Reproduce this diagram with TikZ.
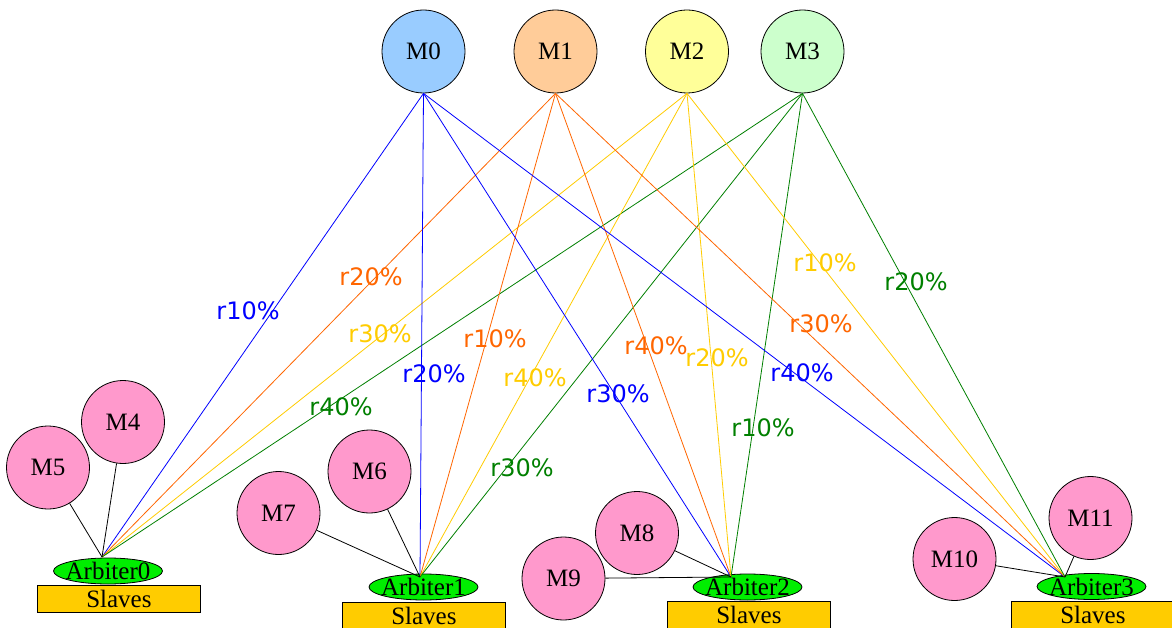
\documentclass[tikz,border=0pt]{standalone}
\usepackage{fontspec}
\setmainfont{Liberation Serif}
\newfontfamily\pctfont{DejaVu Sans}
\usetikzlibrary{shapes.geometric}
\definecolor{mzero}{HTML}{99CCFF}
\definecolor{mone}{HTML}{FFCC99}
\definecolor{mtwo}{HTML}{FFFF99}
\definecolor{mthree}{HTML}{CCFFCC}
\definecolor{pinkc}{HTML}{FF99CC}
\definecolor{arbc}{HTML}{00EE00}
\definecolor{slvc}{HTML}{FFCC00}
\definecolor{lblue}{HTML}{0000FF}
\definecolor{lorange}{HTML}{FF6600}
\definecolor{lyellow}{HTML}{FFCC00}
\definecolor{lgreen}{HTML}{008000}
\newcommand{\arbtext}[1]{\makebox[0pt]{#1}}
\begin{document}
\begin{tikzpicture}[x=1pt,y=-1pt,
  master/.style={circle, draw=black, line width=0.8pt, minimum size=83pt, inner sep=0pt, font=\fontsize{25}{25}\selectfont},
  pinkm/.style={master, fill=pinkc},
  arb/.style={ellipse, draw=black, line width=0.8pt, fill=arbc, minimum width=109pt, minimum height=26pt, inner sep=0pt, text height=17pt, text depth=0pt, font=\fontsize{25}{25}\selectfont},
  slv/.style={rectangle, draw=black, line width=0.8pt, fill=slvc, minimum width=163pt, minimum height=27pt, inner sep=0pt, anchor=north west, font=\fontsize{25}{25}\selectfont},
  pct/.style={font=\pctfont\fontsize{24}{24}\selectfont, inner sep=0pt},
  wire/.style={line width=0.8pt}]
\clip (0,0) rectangle (1172,628);
\fill[white] (0,0) rectangle (1172,628);

% masters
\node[master, fill=mzero] (M0) at (423.5,51.5) {M0};
\node[master, fill=mone] (M1) at (555.5,51.5) {M1};
\node[master, fill=mtwo] (M2) at (687,51.5) {M2};
\node[master, fill=mthree] (M3) at (802.5,51.5) {M3};

% hubs
\coordinate (h0) at (102,557);
\coordinate (h1) at (420,577);
\coordinate (h2) at (731,577);
\coordinate (h3) at (1065,577);

% slaves
\node[slv] (S0) at (37,585) {Slaves};
\node[slv] (S1) at (342,602) {Slaves};
\node[slv] (S2) at (667,601) {Slaves};
\node[slv] (S3) at (1011,601) {Slaves};

% arbiters
\node[arb] (A0) at (108,571) {\arbtext{Arbiter0}};
\node[arb] (A1) at (423.5,587) {\arbtext{Arbiter1}};
\node[arb] (A2) at (747.5,587) {\arbtext{Arbiter2}};
\node[arb] (A3) at (1091.5,586.5) {\arbtext{Arbiter3}};

% master to hub lines
\foreach \h in {h0,h1,h2,h3}{
  \draw[wire, lblue] (M0.south) -- (\h);
  \draw[wire, lorange] (M1.south) -- (\h);
  \draw[wire, lyellow] (M2.south) -- (\h);
  \draw[wire, lgreen] (M3.south) -- (\h);
}

% local masters
\node[pinkm] (M4) at (123,422) {M4};
\node[pinkm] (M5) at (48,467.5) {M5};
\node[pinkm] (M6) at (369.5,471.5) {M6};
\node[pinkm] (M7) at (278.5,513) {M7};
\node[pinkm] (M8) at (637,533) {M8};
\node[pinkm] (M9) at (563.5,578.5) {M9};
\node[pinkm] (M10) at (954.5,559) {M10};
\node[pinkm] (M11) at (1090.5,518) {M11};

\draw[wire] (M4) -- (h0);
\draw[wire] (M5) -- (h0);
\draw[wire] (M6) -- (h1);
\draw[wire] (M7) -- (h1);
\draw[wire] (M8) -- (h2);
\draw[wire] (M9) -- (h2);
\draw[wire] (M10) -- (h3);
\draw[wire] (M11) -- (h3);

% labels
\node[pct, text=lblue] (b1) at (248,311) {r10\%};
\node[pct, text=lblue] (b2) at (434,374) {r20\%};
\node[pct, text=lblue] (b3) at (618,394) {r30\%};
\node[pct, text=lblue] (b4) at (802,373) {r40\%};
\node[pct, text=lorange] (o1) at (371,277) {r20\%};
\node[pct, text=lorange] (o2) at (495,339) {r10\%};
\node[pct, text=lorange] (o3) at (656,346) {r40\%};
\node[pct, text=lorange] (o4) at (821,324) {r30\%};
\node[pct, text=lyellow] (y1) at (380,334) {r30\%};
\node[pct, text=lyellow] (y2) at (535,378) {r40\%};
\node[pct, text=lyellow] (y3) at (717,358) {r20\%};
\node[pct, text=lyellow] (y4) at (825,263) {r10\%};
\node[pct, text=lgreen] (g1) at (341,407) {r40\%};
\node[pct, text=lgreen] (g2) at (522,468) {r30\%};
\node[pct, text=lgreen] (g3) at (763,428) {r10\%};
\node[pct, text=lgreen] (g4) at (916,282) {r20\%};
\end{tikzpicture}
\end{document}
